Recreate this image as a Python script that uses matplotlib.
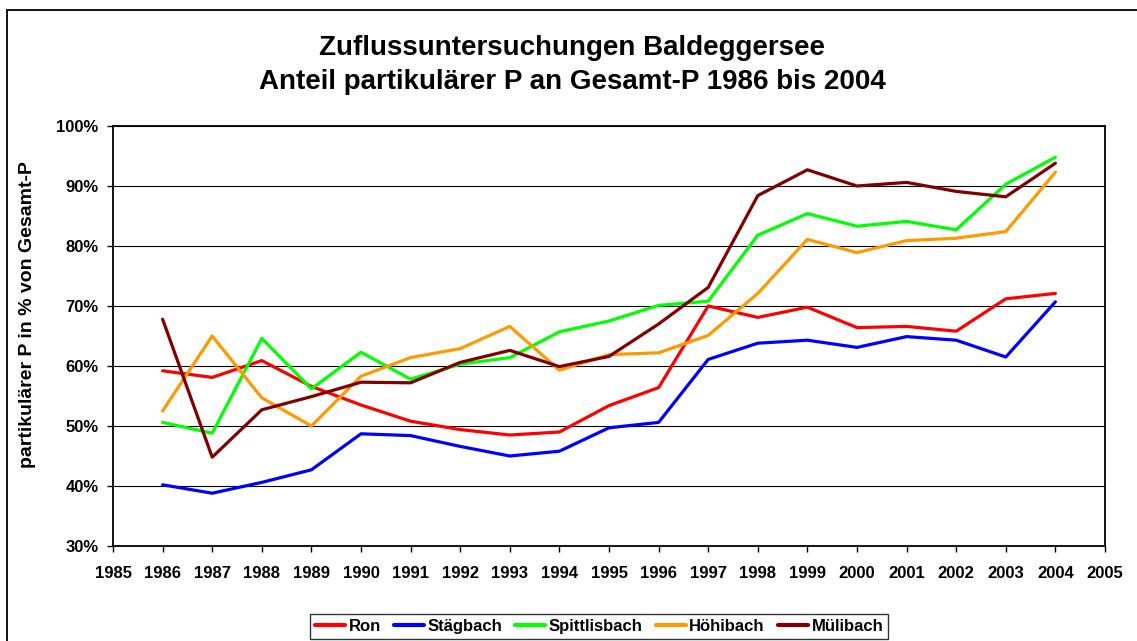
import matplotlib
matplotlib.use("Agg")
import matplotlib.pyplot as plt
from matplotlib.patches import Rectangle
from matplotlib.ticker import FuncFormatter, MultipleLocator

plt.rcParams['font.family'] = ['Liberation Sans', 'DejaVu Sans']

years = list(range(1986, 2005))
ron = [59.2, 58.1, 60.9, 56.6, 53.5, 50.8, 49.4, 48.5, 49.0, 53.4, 56.4, 70.0, 68.1, 69.8, 66.4, 66.6, 65.8, 71.2, 72.1]
staegbach = [40.2, 38.8, 40.6, 42.7, 48.7, 48.4, 46.6, 45.0, 45.8, 49.7, 50.6, 61.1, 63.8, 64.3, 63.1, 64.9, 64.3, 61.5, 70.7]
spittlisbach = [50.6, 48.8, 64.6, 56.2, 62.3, 57.8, 60.3, 61.4, 65.7, 67.5, 70.1, 70.8, 81.8, 85.4, 83.3, 84.1, 82.7, 90.3, 94.8]
hoehibach = [52.5, 65.0, 54.7, 50.0, 58.3, 61.4, 62.9, 66.6, 59.3, 61.9, 62.2, 65.1, 72.1, 81.1, 78.9, 80.9, 81.3, 82.4, 92.3]
muelibach = [67.8, 44.8, 52.7, 54.9, 57.3, 57.2, 60.6, 62.6, 59.9, 61.6, 67.0, 73.1, 88.4, 92.7, 90.0, 90.6, 89.1, 88.2, 93.8]

series = [
    ("Ron", ron, "#FF0000"),
    ("Stägbach", staegbach, "#0000FF"),
    ("Spittlisbach", spittlisbach, "#00FF00"),
    ("Höhibach", hoehibach, "#FF9900"),
    ("Mülibach", muelibach, "#800000"),
]

fig = plt.figure(figsize=(11.37, 6.41), dpi=100)
fig.patches.append(Rectangle((7/1137, -0.01), 1.0, 1 - 10/641 + 0.01, transform=fig.transFigure,
                             fill=False, edgecolor='black', linewidth=1.3))
ax = fig.add_axes([113/1137, 1 - 546/641, (1105 - 113)/1137, (546 - 126)/641])

for name, vals, col in series:
    ax.plot(years, vals, color=col, linewidth=2.3, label=name, solid_capstyle='round')

ax.set_xlim(1985, 2005)
ax.set_ylim(30, 100)
ax.xaxis.set_major_locator(MultipleLocator(1))
ax.yaxis.set_major_locator(MultipleLocator(10))
ax.yaxis.set_major_formatter(FuncFormatter(lambda v, p: f"{int(round(v))}%"))
ax.grid(axis='y', color='black', linewidth=0.8)
ax.set_axisbelow(True)
for s in ax.spines.values():
    s.set_linewidth(1.3)
    s.set_color('black')
ax.tick_params(direction='out', length=4.5, width=1, labelsize=12)
ax.tick_params(axis='x', pad=10)
ax.tick_params(axis='y', pad=6)
for lab in ax.get_xticklabels() + ax.get_yticklabels():
    lab.set_fontweight('bold')

ax.set_ylabel("partikulärer P in % von Gesamt-P", fontsize=14, fontweight='bold')
ax.yaxis.set_label_coords(-0.0776, 0.551)

fig.text(572/1137, 1 - 48/641, "Zuflussuntersuchungen Baldeggersee", ha='center', va='center',
         fontsize=20, fontweight='bold')
fig.text(572/1137, 1 - 82/641, "Anteil partikulärer P an Gesamt-P 1986 bis 2004", ha='center', va='center',
         fontsize=20, fontweight='bold')

leg = fig.legend(loc='upper center', bbox_to_anchor=(0.527, 1 - 614/641), ncol=5,
                 frameon=True, fancybox=False, edgecolor='black', fontsize=12,
                 handlelength=1.8, columnspacing=0.8, handletextpad=0.2, borderpad=0.3,
                 borderaxespad=0)
leg.get_frame().set_linewidth(1.0)
for t in leg.get_texts():
    t.set_fontweight('bold')
for l in leg.get_lines():
    l.set_linewidth(3)

fig.savefig("out.png", dpi=100)
